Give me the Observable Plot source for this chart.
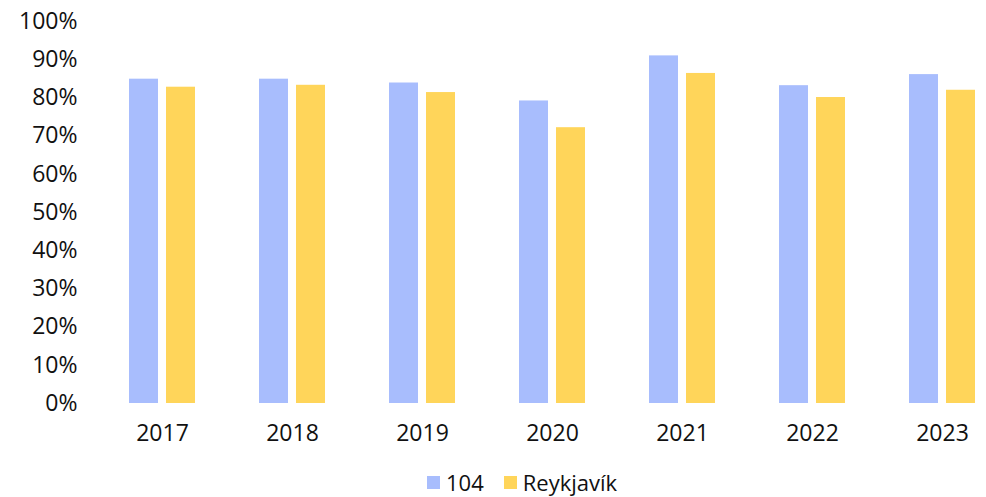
<!DOCTYPE html>
<html><head><meta charset="utf-8">
<script src="https://cdn.jsdelivr.net/npm/d3@7"></script>
<script src="https://cdn.jsdelivr.net/npm/@observablehq/plot@0.6"></script>
<style>
body{margin:0;background:#fff;font-family:"Open Sans",Arial,sans-serif;}
#wrap{position:relative;width:986px;height:497px;overflow:hidden;}
#legend{position:absolute;left:427px;top:469px;height:26px;line-height:26px;display:flex;align-items:center;font-size:22px;color:#111;white-space:nowrap;}
.sw{width:13px;height:13px;display:inline-block;margin-right:6px;}
.item{display:flex;align-items:center;margin-right:20px;line-height:26px;}
</style></head><body>
<div id="wrap"><div id="chart"></div><div id="legend"></div></div>
<script>
const years = ["2017","2018","2019","2020","2021","2022","2023"];
const series = ["104","Reykjavík"];
const values104 = [84.9, 84.9, 83.9, 79.2, 91.0, 83.2, 86.1];
const valuesReykjavik = [82.8, 83.3, 81.4, 72.2, 86.4, 80.1, 82.0];
const colors = ["#a8bdfd","#ffd55a"];
const yTicks = [0,10,20,30,40,50,60,70,80,90,100];

const data = [];
years.forEach((y,i)=>{
  data.push({year:y, series:series[0], value:values104[i]});
  data.push({year:y, series:series[1], value:valuesReykjavik[i]});
});

const chart = Plot.plot({
  width:986, height:462,
  marginLeft:128, marginRight:9, marginTop:21, marginBottom:59,
  style:{fontSize:"23px", fontFamily:'"Open Sans", Arial, sans-serif', color:"#111", background:"#fff"},
  fx:{domain:years, paddingInner:0.49, paddingOuter:0, label:null, axis:"bottom", tickSize:0, tickPadding:21},
  x:{domain:series, paddingInner:0.22, paddingOuter:0, axis:null},
  y:{domain:[0,100], ticks:yTicks, tickFormat:d=>d+"%", tickSize:0, tickPadding:52, label:null},
  color:{domain:series, range:colors},
  marks:[
    Plot.barY(data,{fx:"year", x:"series", y:"value", fill:"series"})
  ]
});
document.getElementById("chart").appendChild(chart);

const leg = document.getElementById("legend");
series.forEach((s,i)=>{
  const it = document.createElement("span");
  it.className="item";
  const sw = document.createElement("span");
  sw.className="sw"; sw.style.background=colors[i];
  it.appendChild(sw);
  it.appendChild(document.createTextNode(s));
  leg.appendChild(it);
});
</script>
</body></html>
